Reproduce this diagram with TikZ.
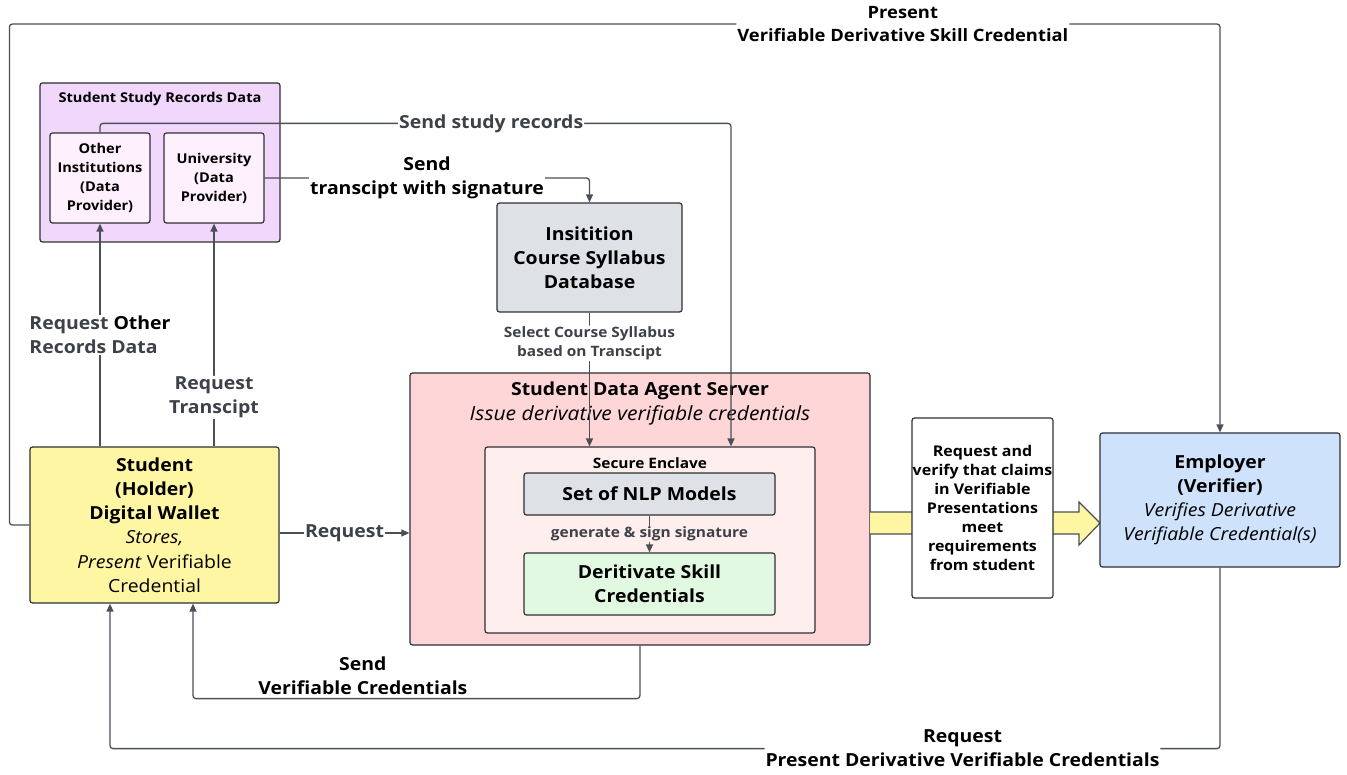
\documentclass[tikz,border=0pt]{standalone}
\usepackage{fontspec}
\setmainfont{Open Sans}[FakeStretch=1.08]
\usetikzlibrary{arrows.meta}
\definecolor{ln}{HTML}{4A4E57}
\definecolor{bd}{HTML}{2E3033}
\definecolor{lg}{HTML}{3D4148}
\definecolor{grp}{HTML}{F1D7FB}
\definecolor{inr}{HTML}{FEF0FC}
\definecolor{gry}{HTML}{DEE1E6}
\definecolor{agt}{HTML}{FFD6D7}
\definecolor{encl}{HTML}{FFEEEE}
\definecolor{grn}{HTML}{E1F9E0}
\definecolor{yel}{HTML}{FFF6A3}
\definecolor{blu}{HTML}{CFE2FC}
\newcommand\fBig{\fontsize{18}{24}\selectfont\bfseries}
\newcommand\fReg{\fontsize{18}{24.2}\selectfont}
\newcommand\fMid{\fontsize{17}{23}\selectfont\bfseries}
\newcommand\fSm{\fontsize{13.5}{19}\selectfont\bfseries}
\newcommand\fVer{\fontsize{14.8}{19}\selectfont\bfseries}
\newcommand\fTiny{\fontsize{14.3}{19}\selectfont\bfseries}

\begin{document}
\begin{tikzpicture}[x=1pt,y=-1pt,
  box/.style={draw=bd,line width=1.2pt,rounded corners=2.5pt,align=center,inner sep=0pt},
  conn/.style={draw=ln,line width=1.3pt,rounded corners=3pt,-{Triangle[length=8pt,width=7pt]}},
  lbl/.style={fill=white,text=lg,font=\fBig,inner sep=1pt,align=center}]
\useasboundingbox (0,0) rectangle (1347,775);
% boxes
\node[box,fill=grp,minimum width=240,minimum height=159] (recs) at (160,162.5) {};
\node[font=\fSm] at (160,99) {Student Study Records Data};
\node[box,fill=inr,font=\fSm,minimum width=100,minimum height=90] (oth) at (100,178) {Other\\Institutions\\(Data\\Provider)};
\node[box,fill=inr,font=\fSm,minimum width=100,minimum height=90] (uni) at (214,178) {University\\(Data\\Provider)};
\node[box,fill=gry,font=\fBig,minimum width=185,minimum height=109] (db) at (589.5,257.5) {Insitition\\Course Syllabus\\Database};
\node[box,fill=agt,minimum width=460,minimum height=272] (agent) at (640,509) {};
\node[font=\fReg,align=center] at (640,403.5) {\textbf{Student Data Agent Server}\\\fontsize{19.5}{24}\selectfont\textit{Issue derivative verifiable credentials}};
\node[box,fill=encl,minimum width=330,minimum height=186] (encl) at (650,540) {};
\node[font=\fTiny] at (650,463) {Secure Enclave};
\node[box,fill=gry,font=\fBig,minimum width=251,minimum height=42] (nlp) at (649.5,494) {Set of NLP Models};
\node[box,fill=grn,font=\fBig,minimum width=251,minimum height=62] (skill) at (649.5,584) {Deritivate Skill\\Credentials};
\node[box,fill=yel,font=\fReg,minimum width=249,minimum height=156] (stud) at (154.5,525) {\textbf{Student}\\\textbf{(Holder)}\\\textbf{Digital Wallet}\\\textit{Stores,}\\\textit{Present} Verifiable\\Credential};
\filldraw[fill=yel,draw=ln,line width=1.2pt] (870,512) -- (1079,512) -- (1079,502) -- (1100,523) -- (1079,545) -- (1079,534) -- (870,534);
\node[box,fill=white,font=\fVer,minimum width=141,minimum height=180] (verif) at (982.5,508) {Request and\\verify that claims\\in Verifiable\\Presentations\\meet\\requirements\\from student};
\node[box,fill=blu,font=\fReg,minimum width=240,minimum height=134] (emp) at (1220,500) {\textbf{Employer}\\\textbf{(Verifier)}\\\textit{Verifies Derivative}\\\textit{Verifiable Credential(s)}};
% connectors
\draw[conn] (oth.north) -- ++(0,-9) -- node[lbl,pos=0.62]{Send study records} ++(631,0) -- ([xshift=81pt]encl.north);
\draw[conn] (uni.east) -| node[lbl,text=black,pos=0.25]{Send\\transcipt with signature} (db.north);
\draw[conn] (db.south) -- node[lbl,font=\fTiny,pos=0.23]{Select Course Syllabus\\based on Transcipt} (db.south |- encl.north);
\draw[conn] (nlp.south) -- node[lbl,fill=encl,font=\fTiny]{generate \& sign signature} (skill.north);
\draw[conn] (oth.south |- stud.north) -- node[lbl,align=left]{Request \textcolor{black}{Other}\\Records Data} (oth.south);
\draw[conn] (uni.south |- stud.north) -- node[lbl,pos=0.22]{Request\\Transcipt} (uni.south);
\coordinate (rq) at ([yshift=-8pt]stud.east);
\draw[conn] (rq) -- node[lbl]{Request} (rq -| agent.west);
\draw[conn] (stud.west) -- ++(-20,0) -- ++(0,-501) -| node[lbl,text=black,font=\fMid,pos=0.369]{Present\\Verifiable Derivative Skill Credential} (emp.north);
\draw[conn] (emp.south) -- ++(0,181) -| node[lbl,text=black,font=\fBig,pos=0.116]{Request\\Present Derivative Verifiable Credentials} ([xshift=-44.5pt]stud.south);
\draw[conn] (agent.south) -- ++(0,53) -| node[above,text=black,font=\fBig,pos=0.31,align=center,inner sep=3pt]{Send\\Verifiable Credentials} ([xshift=38.5pt]stud.south);
\end{tikzpicture}
\end{document}
